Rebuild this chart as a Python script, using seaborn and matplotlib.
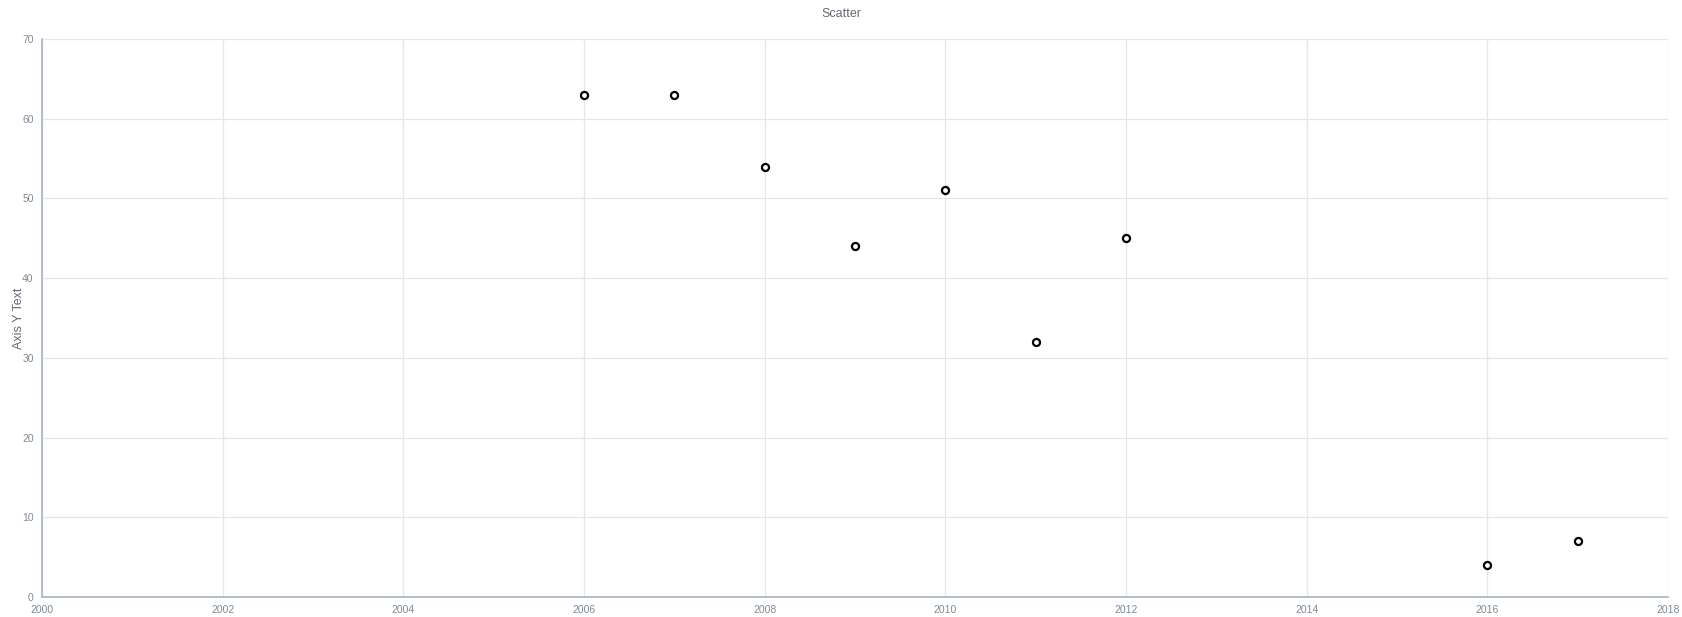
import numpy as np
import matplotlib
matplotlib.use("Agg")
import matplotlib.pyplot as plt
import pandas as pd
import seaborn as sns

# Data
years = [2006, 2007, 2008, 2009, 2010, 2011, 2012, 2016, 2017]
values = [63, 63, 54, 44, 51, 32, 45, 4, 7]

df = pd.DataFrame({"year": years, "value": values})

sns.set_style("white")
plt.rcParams['font.family'] = ['Liberation Sans', 'DejaVu Sans']

fig = plt.figure(figsize=(16.82, 6.17), dpi=100)
ax = fig.add_axes([0.025, 0.0324, 0.9667, 0.9044])

sns.scatterplot(data=df, x="year", y="value", ax=ax,
                marker="o", s=26, facecolor="white",
                edgecolor="black", linewidth=1.6, zorder=3)

ax.set_xlim(2000, 2018)
ax.set_ylim(0, 70)
ax.set_xticks(np.arange(2000, 2019, 2))
ax.set_yticks(np.arange(0, 71, 10))
ax.grid(True, color="#e3e6ea", linewidth=0.9)
ax.set_axisbelow(True)

for side in ["top", "right"]:
    ax.spines[side].set_visible(False)
for side in ["left", "bottom"]:
    ax.spines[side].set_color("#a7b3c0")
    ax.spines[side].set_linewidth(1.2)

ax.tick_params(axis="both", colors="#a7b3c0", length=4, width=1,
               labelsize=7.5, labelcolor="#7f8a96")
ax.tick_params(axis="x", pad=2)
ax.tick_params(axis="y", pad=2)

ax.set_xlabel("")
ax.set_ylabel("Axis Y Text", fontsize=9, color="#606a75", labelpad=-2)
fig.suptitle("Scatter", fontsize=9, color="#606a75", y=0.987)

fig.savefig("out.png", dpi=100)
